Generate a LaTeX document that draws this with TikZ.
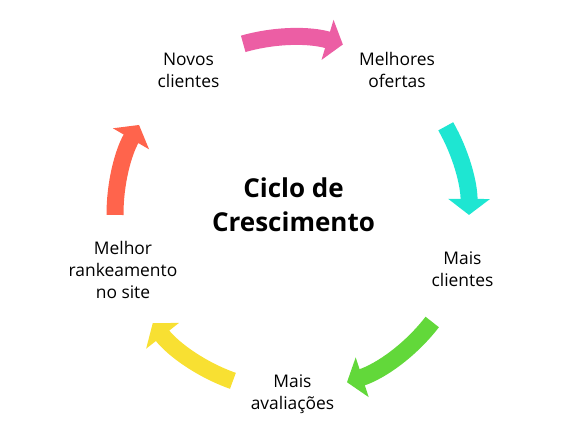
\documentclass[tikz,border=0pt]{standalone}
\usepackage{fontspec}
\setmainfont{Open Sans}
\usetikzlibrary{arrows.meta}

\definecolor{rosa}{RGB}{236,94,164}
\definecolor{turquesa}{RGB}{30,230,210}
\definecolor{verde}{RGB}{98,216,58}
\definecolor{amarelo}{RGB}{248,224,50}
\definecolor{coral}{RGB}{255,100,76}

\begin{document}
\begin{tikzpicture}[x=1pt, y=1pt,
        etapa/.style={align=center, font=\fontsize{17.4}{22}\selectfont},
        titulo/.style={align=center, font=\fontsize{26}{33.7}\selectfont\bfseries},
        seta/.style={line width=17pt, -{Triangle[length=16pt,width=41pt]}}]
      \useasboundingbox (0,0) rectangle (579,439);
      \coordinate (ctr) at (292,225);
      \node[titulo] (ciclo) at (293.5,234) {Ciclo de\\Crescimento};
      \node[etapa] (novos) at (188.5,369) {Novos\\clientes};
      \node[etapa] (ofertas) at (397,369.3) {Melhores\\ofertas};
      \node[etapa] (maiscli) at (462.5,170.2) {Mais\\clientes};
      \node[etapa] (avaliacoes) at (292.5,45) {Mais\\avaliações};
      \node[etapa] (ranking) at (123,169) {Melhor\\rankeamento\\no site};
      % setas do ciclo
      \draw[seta, rosa] ([shift={(106:177)}]ctr) arc[start angle=106, end angle=73.3, radius=177];
      \draw[seta, turquesa] ([shift={(29.7:177)}]ctr) arc[start angle=29.7, end angle=-0.3, radius=177];
      \draw[seta, verde] ([shift={(-37.6:177)}]ctr) arc[start angle=-37.6, end angle=-71.9, radius=177];
      \draw[seta, amarelo] ([shift={(250.5:177)}]ctr) arc[start angle=250.5, end angle=218.1, radius=177];
      \draw[seta, coral] ([shift={(180.3:177)}]ctr) arc[start angle=180.3, end angle=149.8, radius=177];
    \end{tikzpicture}
\end{document}
